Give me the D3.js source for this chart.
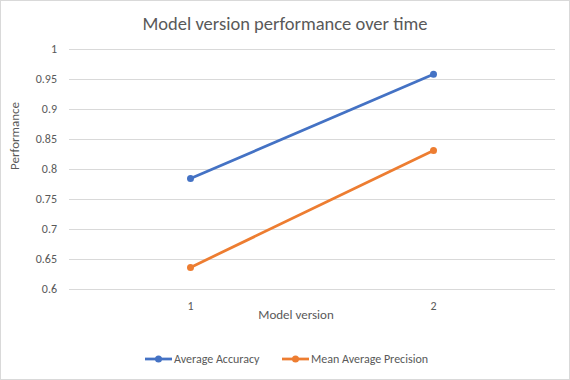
<!DOCTYPE html>
<html><head><meta charset="utf-8">
<script src="https://cdn.jsdelivr.net/npm/d3@7"></script>
<style>body{margin:0;background:#fff}svg{display:block}</style>
</head><body>
<script>
const categories = ["1", "2"];
const seriesNames = ["Average Accuracy", "Mean Average Precision"];
const averageAccuracy = [0.784, 0.958];
const meanAveragePrecision = [0.636, 0.831];
const yTicks = [0.6, 0.65, 0.7, 0.75, 0.8, 0.85, 0.9, 0.95, 1];
const colors = ["#4472C4", "#ED7D31"];

const W = 570, H = 380;
const font = "Calibri, Carlito, 'Open Sans', sans-serif";
const svg = d3.select("body").append("svg").attr("width", W).attr("height", H);
svg.append("rect").attr("x", 0.5).attr("y", 0.5).attr("width", W - 1).attr("height", H - 1)
  .attr("fill", "#fff").attr("stroke", "#d9d9d9");

const m = {l: 69, r: 555, t: 49, b: 289};
const x = d3.scaleBand().domain(categories).range([m.l, m.r]);
const y = d3.scaleLinear().domain([0.6, 1]).range([m.b, m.t]);

const yAxis = d3.axisLeft(y).tickValues(yTicks).tickSize(-(m.r - m.l)).tickPadding(12)
  .tickFormat(d => d3.format("")(+d.toFixed(2)));
const gy = svg.append("g").attr("transform", `translate(${m.l},0)`).call(yAxis);
gy.select(".domain").remove();
gy.selectAll(".tick line").attr("stroke", "#d9d9d9").attr("stroke-width", 1);
gy.selectAll(".tick text").attr("fill", "#595959").style("font-family", font).style("font-size", "12px");

const xAxis = d3.axisBottom(x).tickSize(0).tickPadding(12);
const gx = svg.append("g").attr("transform", `translate(0,${m.b})`).call(xAxis);
gx.select(".domain").remove();
gx.selectAll(".tick text").attr("fill", "#595959").style("font-family", font).style("font-size", "12px");

svg.append("text").attr("x", W / 2).attr("y", 30).attr("text-anchor", "middle")
  .attr("fill", "#595959").style("font-family", font).style("font-size", "18.5px")
  .text("Model version performance over time");
svg.append("text").attr("x", 296).attr("y", 319).attr("text-anchor", "middle")
  .attr("fill", "#595959").style("font-family", font).style("font-size", "13px")
  .text("Model version");
svg.append("text").attr("transform", "translate(19,136) rotate(-90)").attr("text-anchor", "middle")
  .attr("fill", "#595959").style("font-family", font).style("font-size", "13px")
  .text("Performance");

const data = [averageAccuracy, meanAveragePrecision];
const line = d3.line().x((d, i) => x(categories[i]) + x.bandwidth() / 2).y(d => y(d));
data.forEach((vals, s) => {
  svg.append("path").datum(vals).attr("d", line).attr("fill", "none")
    .attr("stroke", colors[s]).attr("stroke-width", 2.75).attr("stroke-linecap", "round");
  svg.selectAll(null).data(vals).enter().append("circle")
    .attr("cx", (d, i) => x(categories[i]) + x.bandwidth() / 2).attr("cy", d => y(d))
    .attr("r", 3.5).attr("fill", colors[s]);
});

const legendX = [145, 282];
seriesNames.forEach((n, s) => {
  const g = svg.append("g").attr("transform", `translate(${legendX[s]},359)`);
  g.append("line").attr("x1", 0).attr("x2", 27).attr("stroke", colors[s]).attr("stroke-width", 2.75);
  g.append("circle").attr("cx", 13.5).attr("r", 3.5).attr("fill", colors[s]);
  g.append("text").attr("x", 29).attr("y", 4).attr("fill", "#595959")
    .style("font-family", font).style("font-size", "12px").text(n);
});
</script>
</body></html>
